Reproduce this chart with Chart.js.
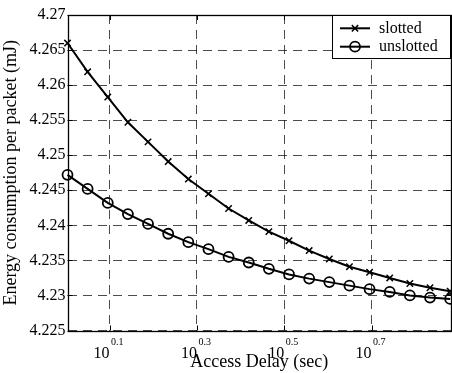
<!DOCTYPE html>
<html>
<head>
<meta charset="utf-8">
<script src="https://cdn.jsdelivr.net/npm/chart.js@4"></script>
<style>
  html, body { margin: 0; padding: 0; background: #fff; overflow: hidden; }
  #wrap { width: 452px; height: 373px; position: relative; }
</style>
</head>
<body>
<div id="wrap"><canvas id="chart"></canvas></div>
<script>
// ==============================
//  DATA
// ==============================
const DELAY = [1.0085, 1.1214, 1.2471, 1.3868, 1.5422, 1.7150, 1.9071, 2.1208, 2.3585, 2.6227,
               2.9166, 3.2434, 3.6068, 4.0109, 4.4604, 4.9601, 5.5159, 6.1340, 6.8213, 7.5856];
const SLOTTED = [4.2660, 4.2619, 4.2583, 4.2547, 4.2519, 4.2491, 4.2466, 4.2445, 4.2424, 4.2407,
                 4.2391, 4.2378, 4.2364, 4.2352, 4.2341, 4.2333, 4.2325, 4.2317, 4.2311, 4.2306];
const UNSLOTTED = [4.2472, 4.2452, 4.2432, 4.2416, 4.2402, 4.2388, 4.2376, 4.2366, 4.2355, 4.2347,
                   4.2338, 4.2330, 4.2324, 4.2319, 4.2314, 4.2309, 4.2305, 4.2300, 4.2297, 4.2295];
const X_TICK_EXP = ['0.1', '0.3', '0.5', '0.7'];
const Y_TICKS = ['4.225', '4.23', '4.235', '4.24', '4.245', '4.25', '4.255', '4.26', '4.265', '4.27'];
const SERIES_NAMES = ['slotted', 'unslotted'];

const SERIF = '"Liberation Serif", "Times New Roman", Tinos, "DejaVu Serif", serif';

// ==============================
//  PLUGIN: frame, inner ticks, x labels, legend
// ==============================
const matlabLook = {
  id: 'matlabLook',
  beforeDatasetsDraw(chart) {
    const { ctx, chartArea: a, scales: { x, y } } = chart;
    ctx.save();
    ctx.strokeStyle = '#000';
    ctx.lineWidth = 1;
    ctx.beginPath();
    x.ticks.forEach(t => {
      const px = Math.round(x.getPixelForValue(t.value)) + 0.5;
      ctx.moveTo(px, a.bottom); ctx.lineTo(px, a.bottom - 5);
      ctx.moveTo(px, a.top);    ctx.lineTo(px, a.top + 5);
    });
    y.ticks.forEach(t => {
      const py = Math.round(y.getPixelForValue(t.value)) + 0.5;
      ctx.moveTo(a.left, py);  ctx.lineTo(a.left + 5, py);
      ctx.moveTo(a.right, py); ctx.lineTo(a.right - 5, py);
    });
    ctx.stroke();
    ctx.lineWidth = 1.3;
    ctx.strokeRect(Math.round(a.left) + 0.5, Math.round(a.top) + 0.5,
                   Math.round(a.right - a.left) - 1, Math.round(a.bottom - a.top));
    ctx.restore();
  },
  afterDraw(chart) {
    const { ctx, chartArea: a, scales: { x } } = chart;
    ctx.save();
    ctx.fillStyle = '#000';
    // x tick labels as 10^exp
    X_TICK_EXP.forEach(e => {
      const px = x.getPixelForValue(Math.pow(10, parseFloat(e)));
      ctx.font = '16px ' + SERIF;
      ctx.textAlign = 'right';
      ctx.textBaseline = 'alphabetic';
      ctx.fillText('10', px, 357.5);
      ctx.font = '10px ' + SERIF;
      ctx.textAlign = 'left';
      ctx.fillText(e, px + 1.5, 345);
    });

    // legend box
    const bx = 332.5, by = a.top + 0.5, bw = a.right - bx - 0.5, bh = 43;
    ctx.fillStyle = '#fff';
    ctx.fillRect(bx, by, bw, bh);
    ctx.strokeStyle = '#000';
    ctx.lineWidth = 1;
    ctx.strokeRect(bx, by, bw, bh);
    const rows = [28.3, 46.7];
    chart.data.datasets.forEach((ds, i) => {
      const ry = rows[i];
      ctx.strokeStyle = '#000';
      ctx.lineWidth = 2;
      ctx.beginPath();
      ctx.moveTo(340, ry); ctx.lineTo(370, ry);
      ctx.stroke();
      ctx.lineWidth = ds.pointBorderWidth;
      ctx.beginPath();
      if (ds.pointStyle === 'crossRot') {
        const r = ds.pointRadius;
        ctx.moveTo(355 - r * 0.7, ry - r * 0.7); ctx.lineTo(355 + r * 0.7, ry + r * 0.7);
        ctx.moveTo(355 - r * 0.7, ry + r * 0.7); ctx.lineTo(355 + r * 0.7, ry - r * 0.7);
      } else {
        ctx.arc(355, ry, ds.pointRadius, 0, Math.PI * 2);
      }
      ctx.stroke();
      ctx.fillStyle = '#000';
      ctx.font = '16px ' + SERIF;
      ctx.textAlign = 'left';
      ctx.textBaseline = 'middle';
      ctx.fillText(ds.label, 379, ry + 0.5);
    });
    ctx.restore();
  }
};

// ==============================
//  CHART
// ==============================
const toPoints = vals => vals.map((v, i) => ({ x: DELAY[i], y: v }));

function build() {
  new Chart(document.getElementById('chart'), {
    type: 'line',
    data: {
      datasets: [
        {
          label: SERIES_NAMES[0],
          data: toPoints(SLOTTED),
          borderColor: '#000',
          borderWidth: 2,
          pointStyle: 'crossRot',
          pointRadius: 4.5,
          pointBorderWidth: 1.5,
          pointBorderColor: '#000',
          pointBackgroundColor: 'transparent',
          tension: 0,
          clip: false,
        },
        {
          label: SERIES_NAMES[1],
          data: toPoints(UNSLOTTED),
          borderColor: '#000',
          borderWidth: 2,
          pointStyle: 'circle',
          pointRadius: 5,
          pointBorderWidth: 1.8,
          pointBorderColor: '#000',
          pointBackgroundColor: 'transparent',
          tension: 0,
          clip: false,
        }
      ]
    },
    options: {
      responsive: true,
      maintainAspectRatio: false,
      animation: false,
      layout: { autoPadding: false, padding: { top: 15, right: 1, bottom: 0, left: 0 } },
      plugins: { legend: { display: false }, tooltip: { enabled: false } },
      scales: {
        x: {
          type: 'logarithmic',
          min: DELAY[0],
          max: 7.62,
          afterBuildTicks: s => { s.ticks = X_TICK_EXP.map(e => ({ value: Math.pow(10, parseFloat(e)) })); },
          afterFit: s => { s.height = 42.5; },
          ticks: { display: false },
          grid: { color: 'rgba(0,0,0,0.7)', lineWidth: 1, drawTicks: false },
          border: { display: false, dash: [9, 6] },
          title: {
            display: true,
            text: 'Access Delay (sec)',
            color: '#000',
            font: { family: SERIF, size: 18 },
            padding: { top: 0, bottom: 0 }
          }
        },
        y: {
          min: 4.225,
          max: 4.27,
          afterBuildTicks: s => { s.ticks = Y_TICKS.map(v => ({ value: parseFloat(v) })); },
          afterFit: s => { s.width = 67.5; },
          ticks: {
            color: '#000',
            font: { family: SERIF, size: 16 },
            padding: 2,
            callback: (v, i) => Y_TICKS[i]
          },
          grid: { color: 'rgba(0,0,0,0.7)', lineWidth: 1, drawTicks: false },
          border: { display: false, dash: [9, 6] },
          title: {
            display: true,
            text: 'Energy consumption per packet (mJ)',
            color: '#000',
            font: { family: SERIF, size: 18 },
            padding: { top: 0, bottom: 0 }
          }
        }
      }
    },
    plugins: [matlabLook]
  });
}

if (document.fonts && document.fonts.load) {
  Promise.all([
    document.fonts.load('16px "Liberation Serif"'),
    document.fonts.load('16px "DejaVu Serif"')
  ]).then(build, build);
} else {
  build();
}
</script>
</body>
</html>
